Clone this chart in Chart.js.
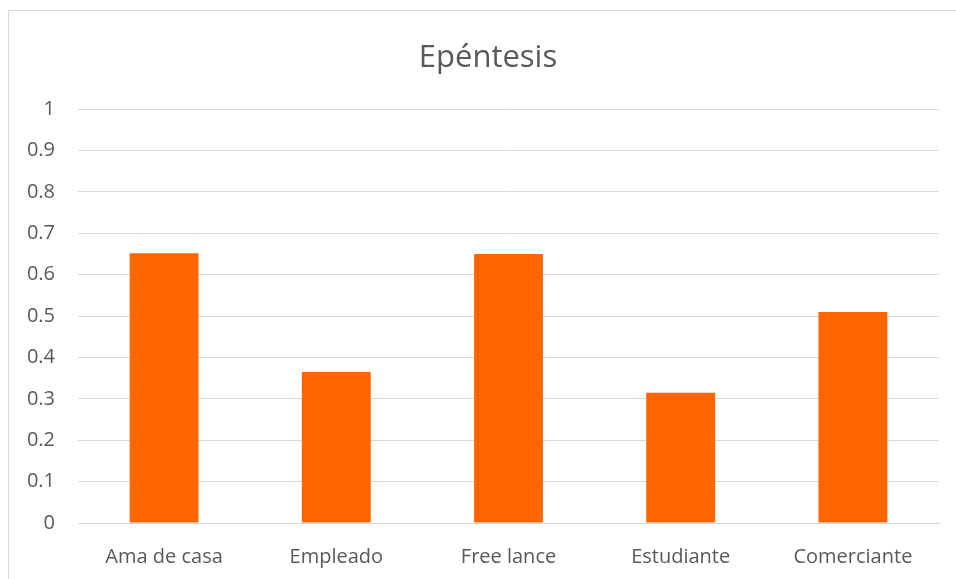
<!DOCTYPE html>
<html lang="es">
<head>
<meta charset="utf-8"/>
<title>Epéntesis</title>
<script src="https://cdn.jsdelivr.net/npm/chart.js"></script>
<style>
  html, body { margin: 0; padding: 0; background: #fff; overflow: hidden; }
  #wrap { position: relative; width: 956px; height: 579px; }
  #marco {
    position: absolute; left: 8px; top: 10px;
    width: 1000px; height: 640px;
    border: 1px solid #d9d9d9;
  }
  canvas { position: absolute; left: 0; top: 0; }
</style>
</head>
<body>
<div id="wrap">
  <div id="marco"></div>
  <canvas id="chart" width="956" height="579"></canvas>
</div>
<script>
  const categorias = ["Ama de casa", "Empleado", "Free lance", "Estudiante", "Comerciante"];
  const valores = [0.652, 0.365, 0.65, 0.315, 0.51];
  const ticksY = [0, 0.1, 0.2, 0.3, 0.4, 0.5, 0.6, 0.7, 0.8, 0.9, 1];

  const fuente = "'Open Sans', 'Noto Sans', sans-serif";
  const gris = "#595959";

  const chart = new Chart(document.getElementById("chart").getContext("2d"), {
    type: 'bar',
    data: {
      labels: categorias,
      datasets: [{
        label: 'Epéntesis',
        data: valores,
        backgroundColor: '#ff6600',
        borderWidth: 0,
        barPercentage: 0.8,
        categoryPercentage: 0.5
      }]
    },
    options: {
      responsive: false,
      animation: false,
      layout: { padding: { left: 37, right: 17, top: 0, bottom: 0 } },
      plugins: {
        legend: { display: false },
        tooltip: { enabled: false },
        title: {
          display: true,
          text: 'Epéntesis',
          color: gris,
          font: { family: fuente, size: 31, weight: 'normal', lineHeight: 1.2 },
          padding: { top: 40, bottom: 32 }
        }
      },
      scales: {
        x: {
          grid: { display: false, drawTicks: false },
          border: { display: true, color: '#d9d9d9', width: 1 },
          ticks: { color: gris, font: { family: fuente, size: 20 }, padding: 22, maxRotation: 0 },
          afterFit: (s) => { s.height = 56; }
        },
        y: {
          min: 0,
          max: 1,
          afterBuildTicks: (s) => { s.ticks = ticksY.map(v => ({ value: v })); },
          grid: { color: '#d9d9d9', lineWidth: 1, drawTicks: false },
          border: { display: false },
          ticks: { color: gris, font: { family: fuente, size: 20 }, padding: 23,
                   callback: (v) => String(Math.round(v * 10) / 10) },
          afterFit: (s) => {
            s.width = 41;
            // las etiquetas sobresalen del eje estrecho: no recortarlas
            s._computeLabelArea = () => undefined;
          }
        }
      }
    }
  });
</script>
</body>
</html>
